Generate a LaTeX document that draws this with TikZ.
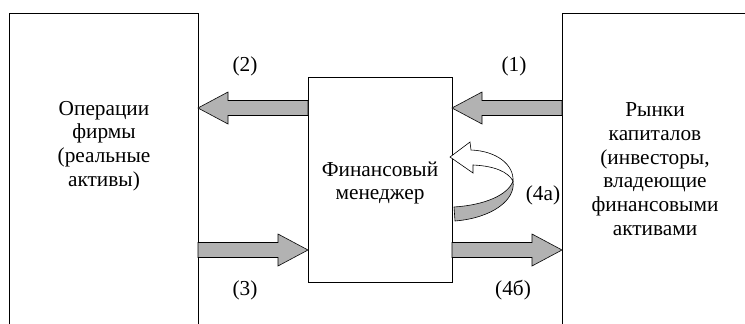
\documentclass[tikz,border=0pt]{standalone}
\usepackage{fontspec}
\setmainfont{Liberation Serif}
\usetikzlibrary{calc}
\newcommand\fatarrow[2]{%
  \draw[fatarr] let \p1=(#1), \p2=(#2), \n1={sign(\x2-\x1)} in
    (\x1,{\y1+7.5pt}) -- ({\x2-\n1*30pt},{\y1+7.5pt}) -- ({\x2-\n1*30pt},{\y1+16pt})
    -- (\x2,\y2) -- ({\x2-\n1*30pt},{\y1-16pt}) -- ({\x2-\n1*30pt},{\y1-7.5pt})
    -- (\x1,{\y1-7.5pt}) -- cycle;}
\begin{document}
\begin{tikzpicture}[x=1pt,y=-1pt,
  frame/.style={draw, line width=1pt, rectangle, inner sep=0pt, outer sep=0pt},
  txt/.style={font=\fontsize{21.3}{23.7}\selectfont, align=center, inner sep=0pt},
  lbl/.style={font=\fontsize{21.3}{23}\selectfont, inner sep=0pt},
  fatarr/.style={draw, fill=gray!60, line width=0.6pt, line join=miter},
  ribbonback/.style={draw, fill=white, line width=0.6pt, line join=miter},
  ribbonfront/.style={draw, fill=gray!60, line width=0.6pt, line join=round}]
\useasboundingbox (0,0) rectangle (745,324);
\clip (0,0) rectangle (745,324);
% boxes
\node[frame, anchor=north west, minimum width=189pt, minimum height=340pt] (ops) at (9,13) {};
\node[frame, anchor=north west, minimum width=200pt, minimum height=340pt] (mkt) at (562,13) {};
\node[frame, anchor=north west, minimum width=144pt, minimum height=205pt] (mgr) at (308,77) {};
% texts
\node[txt] (opst) at (104,146) {Операции\\фирмы\\(реальные\\активы)};
\node[txt] (mktt) at (655,169) {Рынки\\капиталов\\(инвесторы,\\владеющие\\финансовыми\\активами};
\node[txt] (mgrt) at (380,183) {Финансовый\\менеджер};
% labels
\node[lbl] (l1) at (514,66) {(1)};
\node[lbl] (l2) at (245,66) {(2)};
\node[lbl] (l3) at (245,290) {(3)};
\node[lbl] (l4b) at (513,290) {(4б)};
\node[lbl] (l4a) at (543,195) {(4а)};
% levels
\coordinate (ytop) at (0,108);
\coordinate (ybot) at (0,250);
% straight arrows
\fatarrow{mkt.west |- ytop}{mgr.east |- ytop}
\fatarrow{mgr.west |- ytop}{ops.east |- ytop}
\fatarrow{ops.east |- ybot}{mgr.west |- ybot}
\fatarrow{mgr.east |- ybot}{mkt.west |- ybot}
% curved arrow (4a)
\draw[ribbonback] (450,157) -- (470,142) -- (471,150)
  .. controls (497,151) and (514,165) .. (513,181)
  .. controls (508,172) and (495,166) .. (473,165) -- (473,173) -- cycle;
\draw[ribbonfront] (454,207) .. controls (485,205) and (508,195) .. (513,181)
  .. controls (516,200) and (492,218) .. (455,221) -- cycle;
\end{tikzpicture}
\end{document}
